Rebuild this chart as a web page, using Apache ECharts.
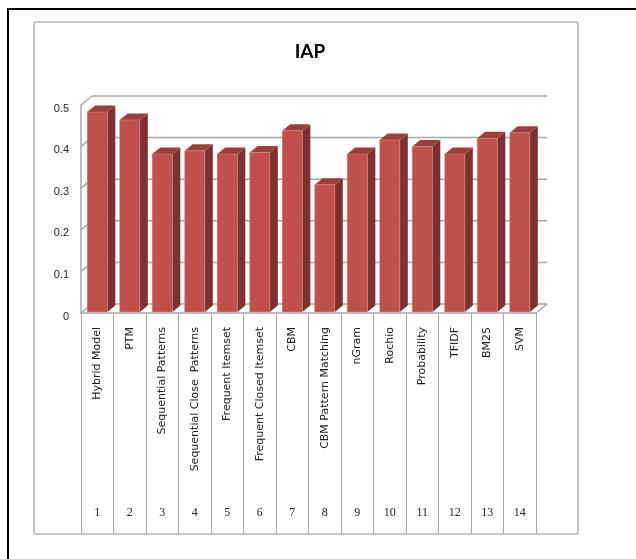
<!DOCTYPE html>
<html>
<head>
<meta charset="utf-8">
<script src="https://cdn.jsdelivr.net/npm/echarts@6/dist/echarts.min.js"></script>
<style>
  html, body { margin: 0; padding: 0; background: #fff; }
  #main { width: 636px; height: 559px; }
</style>
</head>
<body>
<div id="main"></div>
<script>
// IAP per method
var methods = [
  'Hybrid Model', 'PTM', 'Sequential Patterns', 'Sequential Close  Patterns',
  'Frequent Itemset', 'Frequent Closed Itemset', 'CBM', 'CBM Pattern Matching',
  'nGram', 'Rochio', 'Probability', 'TFIDF', 'BM25', 'SVM'
];
var methodNo = ['1', '2', '3', '4', '5', '6', '7', '8', '9', '10', '11', '12', '13', '14'];
var iapValues = [0.483, 0.464, 0.382, 0.390, 0.382, 0.386, 0.438, 0.308,
  0.382, 0.416, 0.400, 0.382, 0.420, 0.433];
var yTicks = [0, 0.1, 0.2, 0.3, 0.4, 0.5];

(function() {
  var chartDom = document.getElementById('main');
  var myChart = echarts.init(chartDom);
  var option;

  // 3D 偏移
  var wallDx = 11, wallDy = -9;
  var barDx = 8, barDy = -6.5;

  option = {
    animation: false,
    title: {
      text: 'IAP',
      left: 305,
      top: 37,
      textAlign: 'center',
      textStyle: {
        fontFamily: 'Lato',
        fontWeight: 'bold',
        fontSize: 19,
        color: '#000'
      }
    },
    graphic: [
      {
        type: 'rect',
        shape: { x: 8, y: 9, width: 700, height: 700 },
        style: { fill: 'none', stroke: '#000', lineWidth: 2 },
        silent: true
      },
      {
        type: 'rect',
        shape: { x: 34, y: 22, width: 544, height: 512, r: 2 },
        style: { fill: 'none', stroke: '#b4b4b4', lineWidth: 1.5 },
        silent: true
      }
    ],
    grid: {
      left: 81,
      right: 100,
      top: 105,
      bottom: 246
    },
    xAxis: [
      {
        type: 'category',
        data: methods,
        axisLine: { show: true, lineStyle: { color: '#a8a8a8', width: 1.5 } },
        axisTick: { show: true, length: 221, lineStyle: { color: '#a8a8a8', width: 1 } },
        axisLabel: {
          interval: 0,
          rotate: 90,
          margin: 14,
          fontFamily: 'DejaVu Sans',
          fontSize: 11,
          color: '#222'
        }
      },
      {
        type: 'category',
        data: methodNo,
        position: 'bottom',
        axisLine: { show: false },
        axisTick: { show: false },
        axisLabel: {
          interval: 0,
          margin: 194,
          fontFamily: 'Liberation Serif',
          fontSize: 12,
          color: '#222'
        }
      }
    ],
    yAxis: {
      type: 'value',
      min: 0,
      max: 0.5,
      interval: 0.1,
      splitLine: { show: false },
      axisLine: { show: true, lineStyle: { color: '#a8a8a8', width: 1.5 } },
      axisTick: { show: false },
      axisLabel: {
        margin: 12,
        verticalAlign: 'top',
        lineHeight: 7,
        fontFamily: 'Liberation Sans',
        fontSize: 11,
        color: '#222'
      }
    },
    series: [
      {
        // 背景墙：网格线与地面
        name: 'walls',
        type: 'custom',
        z: 1,
        silent: true,
        data: yTicks.map(function(v) { return [0, v]; }),
        renderItem: function(params, api) {
          var v = api.value(1);
          var band = api.size([1, 0])[0];
          var p = api.coord([0, v]);
          var xL = p[0] - band / 2;
          var xR = xL + band * methods.length;
          var y = p[1];
          var style = { stroke: '#a8a8a8', lineWidth: 1.5 };
          var children = [
            { type: 'line', shape: { x1: xL, y1: y, x2: xL + wallDx, y2: y + wallDy }, style: style },
            { type: 'line', shape: { x1: xL + wallDx, y1: y + wallDy, x2: xR + wallDx, y2: y + wallDy }, style: style }
          ];
          if (v === 0) {
            children.push({ type: 'line', shape: { x1: xR, y1: y, x2: xR + wallDx, y2: y + wallDy }, style: style });
          }
          return { type: 'group', children: children };
        }
      },
      {
        name: 'IAP',
        type: 'custom',
        z: 2,
        data: iapValues.map(function(v, i) { return [i, v]; }),
        renderItem: function(params, api) {
          var top = api.coord([api.value(0), api.value(1)]);
          var base = api.coord([api.value(0), 0]);
          var w = api.size([1, 0])[0] * 0.62;
          var x0 = top[0] - w / 2, x1 = top[0] + w / 2;
          var yt = top[1], yb = base[1] - 1;
          return {
            type: 'group',
            children: [
              {
                type: 'polygon',
                shape: { points: [[x1, yb], [x1 + barDx, yb + barDy], [x1 + barDx, yt + barDy], [x1, yt]] },
                style: { fill: '#7f312f' }
              },
              {
                type: 'polygon',
                shape: { points: [[x0, yt], [x0 + barDx, yt + barDy], [x1 + barDx, yt + barDy], [x1, yt]] },
                style: { fill: '#98403d' }
              },
              {
                type: 'rect',
                shape: { x: x0, y: yt, width: w, height: yb - yt },
                style: { fill: '#c0504d', stroke: '#d98c8a', lineWidth: 0.5 }
              }
            ]
          };
        }
      }
    ]
  };

  option && myChart.setOption(option);
  window.addEventListener("resize", function() {
    myChart.resize();
  });
})();
</script>
</body>
</html>
